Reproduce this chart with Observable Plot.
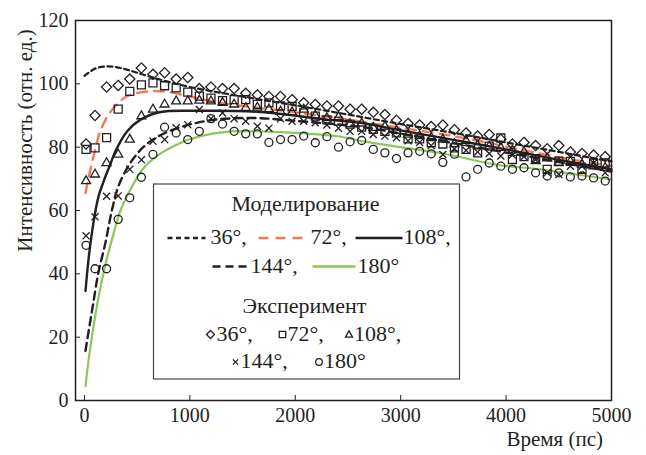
<!DOCTYPE html>
<html>
<head>
<meta charset="utf-8">
<script src="https://cdn.jsdelivr.net/npm/d3@7"></script>
<script src="https://cdn.jsdelivr.net/npm/@observablehq/plot@0.6"></script>
</head>
<body style="margin:0">
<div id="wrap" style="position:relative;width:646px;height:455px"><div id="xlabel" style="position:absolute;right:43px;top:429px;font-family:'Liberation Serif';font-size:21px;line-height:1;color:#231f20;white-space:nowrap;z-index:3">Время (пс)</div><div id="chart"></div><div id="legend" style="position:absolute;left:151px;top:182px"></div></div>
<script>
// ---------- data ----------
const xTicks = [0, 1000, 2000, 3000, 4000, 5000];
const yTicks = [0, 20, 40, 60, 80, 100, 120];

// experiment sampling times (ps)
const times = [15, 100, 210, 320, 430, 540, 650, 760, 870, 980, 1090, 1200, 1310, 1420, 1530, 1640,
  1750, 1860, 1970, 2080, 2190, 2300, 2410, 2520, 2630, 2740, 2850, 2960, 3070, 3180, 3290, 3400,
  3510, 3620, 3730, 3840, 3950, 4060, 4170, 4280, 4390, 4500, 4610, 4720, 4830, 4940];

const exp36 = [81, 90, 99, 99.5, 101.5, 105, 103, 103.5, 101.5, 102, 98.5, 99, 98.5, 98.5, 97, 96.5,
  96, 96, 95, 94, 93.5, 93, 93, 92, 92, 91, 90.3, 88.5, 87.5, 87, 86.5, 87,
  85.5, 84.5, 83.5, 84, 82.5, 81, 81.5, 80.5, 79.5, 80.5, 78.5, 78, 77.5, 77];
const exp72 = [79.3, 79.8, 83, 92, 97.6, 99.7, 100.3, 99.4, 98.7, 97.4, 96.1, 95.5, 94.7, 95, 95, 93.5,
  94, 93, 92.9, 90.8, 89.8, 88.6, 88.2, 87.3, 86.3, 85.6, 85, 84.5, 82.6, 82.6, 81.4, 81,
  79.8, 79.3, 78.2, 80.3, 82.9, 76.1, 77, 76.4, 73, 75.6, 75.5, 73, 75, 75];
const exp108 = [69.3, 71.4, 75, 77.7, 82.4, 89.8, 91.9, 93.5, 94.5, 94.5, 94.7, 94.5, 94, 93.5, 92.4, 92.5,
  92, 91.3, 91, 91.9, 90, 89.2, 89.5, 87.3, 87.5, 86.1, 86.5, 85.2, 84, 83.5, 82.9, 82.4,
  81, 82, 80.5, 80.3, 79.8, 79, 78.5, 75.6, 76.5, 75, 75.5, 74.5, 74, 73.5];
const exp144 = [52, 58, 64.5, 64.6, 73, 76, 81.9, 82.4, 86.1, 87.1, 91.9, 89, 90.8, 89, 88.2, 86.6,
  86, 89, 88.2, 88.2, 87.7, 87, 86, 85, 85, 84, 83.5, 83, 82, 81.5, 80.5, 77.7,
  79.5, 79, 78.5, 78, 77.2, 77.5, 77, 76, 71.9, 71.4, 74, 74, 75, 71.9];
const exp180 = [49, 41.6, 41.6, 57.2, 64, 70.5, 77.7, 86.3, 84.5, 82.4, 85, 89, 87.3, 85, 84.2, 84.2,
  81.5, 82.4, 82.4, 83.5, 81.4, 83.3, 80, 81.7, 82.1, 79.3, 78.2, 76.4, 78.2, 78.7, 77.9, 75.2,
  77.8, 70.6, 73, 75, 74, 73, 73.5, 71.9, 70.9, 71.9, 70.6, 70.9, 70.3, 69.3];

// model curves
const m36x = [0, 100, 200, 300, 400, 500, 700, 1000, 1500, 2000, 2500, 3000, 3500, 4000, 4500, 5000];
const m36y = [102.5, 104.8, 105.5, 105.3, 104.5, 103.5, 101.5, 99, 96, 93.2, 90.3, 87.3, 84.5, 81.5, 78.5, 75.5];
const m72x = [10, 50, 100, 150, 250, 400, 600, 750, 1000, 1200, 1500, 2000, 2500, 3000, 3500, 4000, 4500, 5000];
const m72y = [65.5, 72, 79, 85, 91.3, 96, 97.6, 97.6, 96, 94.5, 93, 91, 88.7, 86.1, 83.5, 80.2, 76.8, 74];
const m108x = [10, 40, 80, 130, 183, 250, 294, 405, 532, 722, 1040, 1670, 2300, 2620, 3000, 3500, 4000, 4500, 5000];
const m108y = [34.6, 45, 55, 64, 69.3, 75, 78.7, 85, 88.7, 91.1, 91.5, 91.1, 88.7, 87.7, 85.3, 82.3, 79.3, 76, 73];
const m144x = [10, 40, 80, 130, 200, 260, 326, 468, 627, 848, 1197, 1600, 2000, 2600, 3000, 3500, 4000, 4500, 5000];
const m144y = [15.7, 22, 30, 40, 50, 60, 68, 76.6, 81.9, 85.6, 88.5, 89.2, 88.3, 86.5, 84.3, 81.3, 78.3, 75.3, 72.3];
const m180x = [10, 40, 80, 130, 200, 270, 342, 450, 563, 700, 817, 1000, 1200, 1400, 1800, 2430, 2620, 3000, 3400, 3900, 4330, 4700, 5000];
const m180y = [4.5, 13, 22, 32, 43, 52, 60, 67.5, 73.5, 77.5, 79.8, 82.5, 84.2, 85, 84.8, 83.3, 82, 80, 78, 74.5, 73, 71.2, 69.8];

const legendModelTitle = "Моделирование";
const legendExpTitle = "Эксперимент";
const angleLabels = ["36°", "72°", "108°", "144°", "180°"];
const yLabel = "Интенсивность (отн. ед.)";

// ---------- styles ----------
const ink = "#231f20";
const orange = "#f07b55";
const green = "#8dc75a";
const font = "Liberation Serif";

const pts = (xs, ys) => xs.map((x, i) => ({x, y: ys[i]}));
const curve = "catmull-rom";

const chart = Plot.plot({
  width: 646,
  height: 455,
  marginLeft: 75,
  marginRight: 35,
  marginTop: 20,
  marginBottom: 55,
  style: "font-family: 'Liberation Serif'; font-size: 20px;",
  x: {domain: [-85, 5000]},
  y: {domain: [0, 120]},
  marks: [
    Plot.line(pts(m36x, m36y), {x: "x", y: "y", stroke: ink, strokeWidth: 2.2, strokeDasharray: "5,3.5", curve}),
    Plot.line(pts(m72x, m72y), {x: "x", y: "y", stroke: orange, strokeWidth: 2.4, strokeDasharray: "10,7", curve}),
    Plot.line(pts(m108x, m108y), {x: "x", y: "y", stroke: ink, strokeWidth: 2.4, curve}),
    Plot.line(pts(m144x, m144y), {x: "x", y: "y", stroke: ink, strokeWidth: 2.4, strokeDasharray: "8,5", curve}),
    Plot.line(pts(m180x, m180y), {x: "x", y: "y", stroke: green, strokeWidth: 2.2, curve}),
    Plot.dot(pts(times, exp180), {x: "x", y: "y", symbol: "circle", r: 4, stroke: ink, strokeWidth: 1.3, fill: "none"}),
    Plot.dot(pts(times, exp144), {x: "x", y: "y", symbol: "times", r: 3.3, stroke: ink, strokeWidth: 1.3, fill: "none"}),
    Plot.dot(pts(times, exp108), {x: "x", y: "y", symbol: "triangle2", r: 4.3, stroke: ink, strokeWidth: 1.3, fill: "none"}),
    Plot.dot(pts(times, exp72), {x: "x", y: "y", symbol: "square2", r: 5.1, stroke: ink, strokeWidth: 1.3, fill: "none"}),
    Plot.dot(pts(times, exp36), {x: "x", y: "y", symbol: "diamond2", r: 4.6, stroke: ink, strokeWidth: 1.3, fill: "none"}),
    Plot.axisX({ticks: xTicks, tickSize: -5, tickPadding: 12, label: null, tickFormat: d => String(d), stroke: ink, fill: ink, fontFamily: font, fontSize: 20}),
    Plot.axisY({ticks: yTicks, tickSize: -5, tickPadding: 12, label: null, tickFormat: d => String(d), stroke: ink, fill: ink, fontFamily: font, fontSize: 20}),
    Plot.frame({stroke: ink, strokeWidth: 1.5}),
    Plot.text([yLabel], {frameAnchor: "top-left", dx: -50, dy: 120, rotate: -90, lineAnchor: "middle", textAnchor: "middle", fill: ink, fontFamily: font, fontSize: 21})
  ]
});
document.getElementById("chart").appendChild(chart);

// ---------- legend: a small Plot laid over the chart, in page-pixel coordinates ----------
const titles = [
  {x: 305, y: 210, text: legendModelTitle},
  {x: 304, y: 312, text: legendExpTitle}
];
const lineItems = [
  {x1: 167, x2: 205, y: 237.5, stroke: ink, dash: "5,3.5", tx: 210, ty: 243.5, label: angleLabels[0] + ","},
  {x1: 258, x2: 305, y: 237.5, stroke: orange, dash: "10,7", tx: 310, ty: 243.5, label: angleLabels[1] + ","},
  {x1: 355, x2: 402, y: 237.5, stroke: ink, dash: "none", tx: 403, ty: 243.5, label: angleLabels[2] + ","},
  {x1: 212, x2: 247, y: 266, stroke: ink, dash: "8,5", tx: 250, ty: 272, label: angleLabels[3] + ","},
  {x1: 312, x2: 355, y: 266, stroke: green, dash: "none", tx: 357, ty: 272, label: angleLabels[4]}
];
const symItems = [
  {symbol: "diamond2", r: 3.6, cx: 210, cy: 334, tx: 216, ty: 340, label: angleLabels[0] + ","},
  {symbol: "square2", r: 4.1, cx: 282, cy: 334, tx: 287, ty: 340, label: angleLabels[1] + ","},
  {symbol: "triangle2", r: 3.4, cx: 348.5, cy: 334.5, tx: 353.5, ty: 340, label: angleLabels[2] + ","},
  {symbol: "times", r: 2.5, cx: 235, cy: 361.5, tx: 240, ty: 367, label: angleLabels[3] + ","},
  {symbol: "circle", r: 3.3, cx: 318.5, cy: 361.5, tx: 323.5, ty: 367, label: angleLabels[4]}
];

const legend = Plot.plot({
  width: 310,
  height: 199,
  margin: 0,
  style: "font-family: 'Liberation Serif'; font-size: 22px; background: transparent;",
  x: {domain: [151, 461], range: [0, 310], axis: null},
  y: {domain: [182, 381], range: [0, 199], axis: null},
  marks: [
    Plot.rect([0], {x1: 153.5, x2: 459.5, y1: 184, y2: 379, fill: "white", stroke: "#444", strokeWidth: 1.2}),
    Plot.text(titles, {x: "x", y: "y", text: "text", textAnchor: "middle", lineAnchor: "bottom", fill: ink, fontFamily: font, fontSize: 22}),
    ...lineItems.map(it => Plot.link([it], {x1: "x1", x2: "x2", y1: "y", y2: "y", stroke: it.stroke, strokeWidth: 2.4, strokeDasharray: it.dash})),
    Plot.text(lineItems, {x: "tx", y: "ty", text: "label", textAnchor: "start", lineAnchor: "bottom", fill: ink, fontFamily: font, fontSize: 22}),
    ...symItems.map(it => Plot.dot([it], {x: "cx", y: "cy", symbol: it.symbol, r: it.r, stroke: ink, strokeWidth: 1.3, fill: "none"})),
    Plot.text(symItems, {x: "tx", y: "ty", text: "label", textAnchor: "start", lineAnchor: "bottom", fill: ink, fontFamily: font, fontSize: 22})
  ]
});
document.getElementById("legend").appendChild(legend);
</script>
</body>
</html>
